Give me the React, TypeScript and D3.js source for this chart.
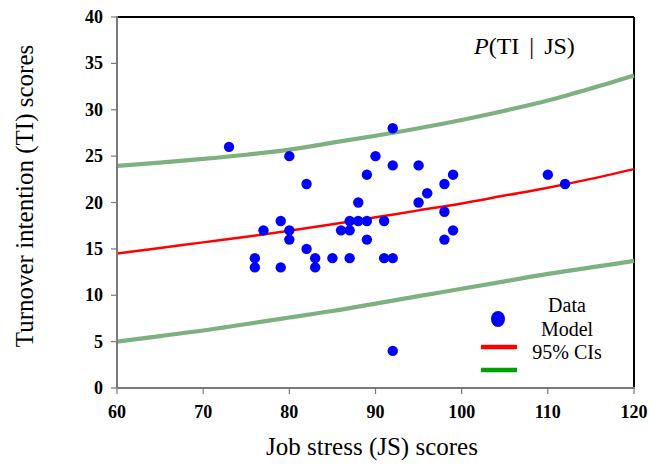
import React from "react";
import * as d3 from "d3";

// Observed data: job stress (JS) and turnover intention (TI)
const jsScores = [73, 76, 76, 77, 79, 79, 80, 80, 80, 82, 82, 83, 83, 85, 86, 87, 87, 87, 88, 88, 89, 89, 89, 90, 91, 91, 92, 92, 92, 92, 95, 95, 96, 98, 98, 98, 99, 99, 110, 112];
const tiScores = [26, 14, 13, 17, 18, 13, 25, 17, 16, 22, 15, 14, 13, 14, 17, 18, 17, 14, 20, 18, 23, 18, 16, 25, 18, 14, 28, 24, 14, 4, 24, 20, 21, 22, 19, 16, 23, 17, 23, 22];

// Model curve and 95% CIs, read at these JS values
const curveJS = [60, 65, 70, 75, 80, 85, 90, 95, 100, 105, 110, 115, 120];
const modelTI = [14.5, 15.1, 15.7, 16.3, 16.95, 17.65, 18.4, 19.15, 19.9, 20.75, 21.6, 22.55, 23.6];
const upperTI = [23.95, 24.3, 24.7, 25.15, 25.7, 26.45, 27.2, 28.0, 28.9, 29.9, 31.0, 32.3, 33.7];
const lowerTI = [5.0, 5.6, 6.2, 6.9, 7.6, 8.3, 9.1, 9.9, 10.7, 11.5, 12.3, 13.0, 13.7];

const xTicks = [60, 70, 80, 90, 100, 110, 120];
const yTicks = [0, 5, 10, 15, 20, 25, 30, 35, 40];
const legendLabels = ["Data", "Model", "95% CIs"];

const W = 649;
const H = 464;
const FONT = "'Liberation Serif', 'Times New Roman', serif";

export default function App() {
  const x = d3.scaleLinear().domain([60, 120]).range([117, 634]);
  const y = d3.scaleLinear().domain([0, 40]).range([388, 17]);

  const line = d3
    .line<[number, number]>()
    .x((d) => x(d[0]))
    .y((d) => y(d[1]))
    .curve(d3.curveMonotoneX);

  const pts = (vals: number[]) => curveJS.map((v, i) => [v, vals[i]] as [number, number]);

  const greenCI = "#7fb07f";
  const axisGray = "#7a7a7a";

  return (
    <svg width={W} height={H} style={{ position: "absolute", left: 0, top: 0, background: "#fff" }}>
      {/* frame top/right */}
      <line x1={x(60)} x2={x(120)} y1={y(40)} y2={y(40)} stroke="#000" strokeWidth={2} />
      <line x1={x(120)} x2={x(120)} y1={y(40)} y2={y(0)} stroke="#000" strokeWidth={2} />

      {/* CI curves */}
      <path d={line(pts(upperTI)) || ""} fill="none" stroke={greenCI} strokeWidth={4.2} />
      <path d={line(pts(lowerTI)) || ""} fill="none" stroke={greenCI} strokeWidth={4.2} />
      {/* model */}
      <path d={line(pts(modelTI)) || ""} fill="none" stroke="#ff0000" strokeWidth={2.5} />

      {/* data */}
      {jsScores.map((v, i) => (
        <circle key={i} cx={x(v)} cy={y(tiScores[i])} r={5.2} fill="#0000ff" />
      ))}

      {/* axes */}
      <line x1={x(60)} x2={x(60)} y1={y(40) - 1} y2={y(0)} stroke={axisGray} strokeWidth={2} />
      <line x1={x(60)} x2={x(120) + 1} y1={y(0)} y2={y(0)} stroke={axisGray} strokeWidth={2} />
      {yTicks.map((t) => (
        <g key={"y" + t}>
          <line x1={x(60) - 6} x2={x(60)} y1={y(t)} y2={y(t)} stroke={axisGray} strokeWidth={1.2} />
          <text
            x={x(60) - 14}
            y={y(t)}
            textAnchor="end"
            dominantBaseline="central"
            fontFamily={FONT}
            fontWeight="bold"
            fontSize={18}
            fill="#000"
          >
            {t}
          </text>
        </g>
      ))}
      {xTicks.map((t) => (
        <g key={"x" + t}>
          <line x1={x(t)} x2={x(t)} y1={y(0)} y2={y(0) + 6} stroke={axisGray} strokeWidth={1.2} />
          <text
            x={x(t)}
            y={y(0) + 30}
            textAnchor="middle"
            fontFamily={FONT}
            fontWeight="bold"
            fontSize={18}
            fill="#000"
          >
            {t}
          </text>
        </g>
      ))}

      {/* axis titles */}
      <text x={372} y={455} textAnchor="middle" fontFamily={FONT} fontSize={25} fill="#000">
        Job stress (JS) scores
      </text>
      <text
        transform="translate(33,196) rotate(-90)"
        textAnchor="middle"
        fontFamily={FONT}
        fontSize={25}
        fill="#000"
      >
        Turnover intention (TI) scores
      </text>

      {/* panel label */}
      <text x={474} y={54} fontFamily={FONT} fontSize={24} fill="#000">
        <tspan fontStyle="italic">P</tspan>
        <tspan>(TI </tspan>
        <tspan dx={4}>|</tspan>
        <tspan dx={4}> JS)</tspan>
      </text>

      {/* legend */}
      <ellipse cx={498} cy={319} rx={7} ry={8} fill="#0000ff" />
      <line x1={481} x2={517} y1={347} y2={347} stroke="#ff0000" strokeWidth={4.5} />
      <line x1={481} x2={517} y1={370} y2={370} stroke="#00a000" strokeWidth={4.5} />
      {legendLabels.map((lab, i) => (
        <text
          key={lab}
          x={567}
          y={312 + i * 23.5}
          textAnchor="middle"
          fontFamily={FONT}
          fontSize={20}
          fill="#000"
        >
          {lab}
        </text>
      ))}
    </svg>
  );
}
